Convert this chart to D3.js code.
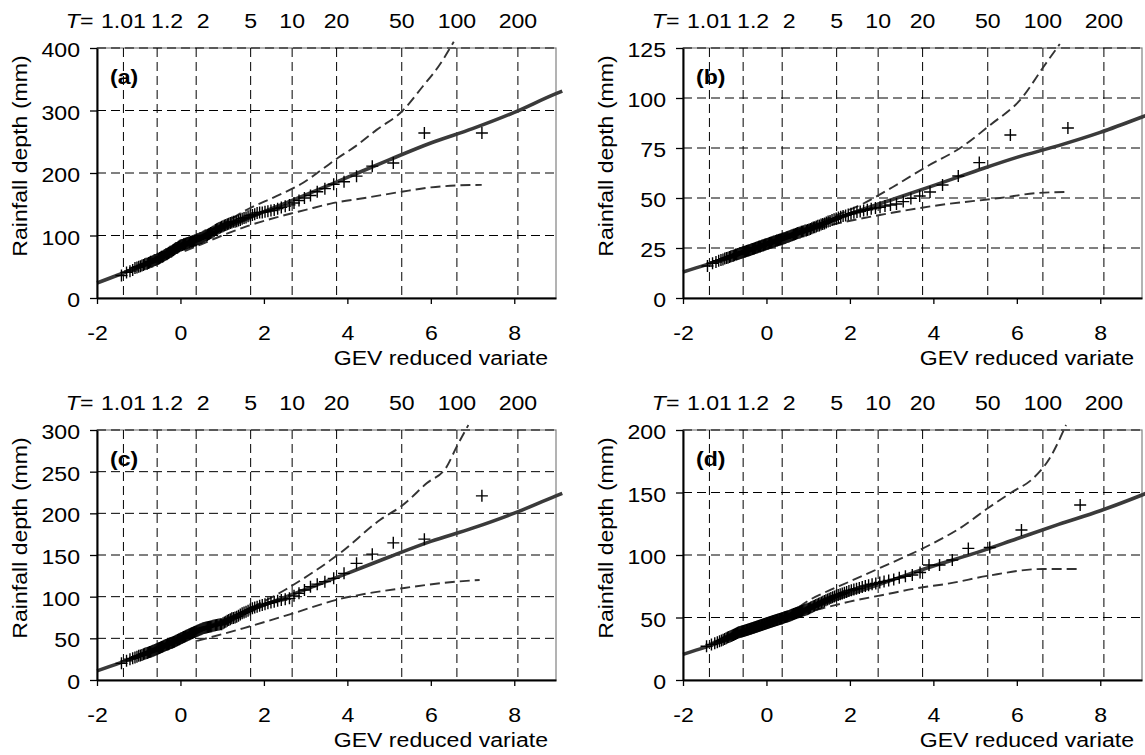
<!DOCTYPE html>
<html>
<head>
<meta charset="utf-8">
<script src="https://cdn.jsdelivr.net/npm/d3@7"></script>
<style>
body { margin: 0; background: #fff; }
text { font-family: "Liberation Sans", Arial, sans-serif; font-size: 21px; fill: #000; }
</style>
</head>
<body>
<svg id="chart" width="1145" height="755"></svg>
<script>
// GEV shape used for the reduced-variate axis
const shapeK = -0.15
const returnPeriods = [1.01, 1.2, 2, 5, 10, 20, 50, 100, 200]
const returnLabels = ['1.01', '1.2', '2', '5', '10', '20', '50', '100', '200']
const xTicks = [-2, 0, 2, 4, 6, 8]

const yTicksA = [0, 100, 200, 300, 400]
const yTicksB = [0, 25, 50, 75, 100, 125]
const yTicksC = [0, 50, 100, 150, 200, 250, 300]
const yTicksD = [0, 50, 100, 150, 200]

// observed annual maxima (mm), ascending
const obsA = [36, 41, 43, 45, 48, 49, 50, 51, 52, 53,
  54, 55, 55, 56, 57, 58, 58, 59, 60, 61,
  61, 62, 63, 63, 64, 65, 66, 66, 67, 68,
  69, 70, 70, 71, 72, 73, 74, 74, 75, 76,
  77, 78, 79, 80, 80, 81, 82, 83, 84, 84,
  85, 85, 86, 86, 87, 87, 88, 88, 89, 89,
  90, 90, 91, 91, 92, 92, 93, 94, 94, 95,
  96, 96, 97, 98, 99, 100, 100, 101, 102, 103,
  104, 105, 106, 107, 109, 110, 111, 112, 113, 114,
  115, 116, 117, 118, 119, 120, 121, 122, 122, 123,
  124, 125, 127, 128, 129, 131, 132, 133, 134, 136,
  137, 137, 138, 139, 140, 141, 143, 145, 147, 149,
  152, 156, 160, 164, 170, 175, 182, 186,
  195, 211, 216, 264, 264]

const obsB = [16, 17.4, 18, 18.6, 19, 19.2, 19.7, 20, 20.1, 20.5,
  20.8, 21, 21.1, 21.4, 21.7, 21.8, 22, 22.1, 22.4, 22.5,
  22.6, 22.9, 23, 23.1, 23.3, 23.5, 23.6, 23.8, 23.9, 24,
  24.2, 24.4, 24.5, 24.6, 24.8, 25, 25.1, 25.2, 25.4, 25.6,
  25.7, 25.8, 26, 26.2, 26.3, 26.4, 26.6, 26.8, 26.9, 27,
  27.1, 27.3, 27.5, 27.6, 27.7, 27.9, 28.1, 28.2, 28.3, 28.5,
  28.7, 28.8, 29, 29.1, 29.2, 29.4, 29.6, 29.7, 29.9, 30,
  30.2, 30.5, 30.6, 30.8, 31, 31.3, 31.4, 31.6, 31.8, 32,
  32.2, 32.5, 32.6, 32.8, 33.1, 33.2, 33.4, 33.7, 33.8, 34,
  34.3, 34.5, 34.9, 35.2, 35.4, 35.8, 36.1, 36.3, 36.7, 37,
  37.3, 37.8, 38.2, 38.5, 39, 39.4, 39.7, 40.2, 40.6, 41,
  41.3, 41.8, 42.1, 42.6, 43, 43.3, 43.8, 44.1, 44.6, 45,
  45.4, 46, 46.5, 47, 48.2, 49.8, 51, 53,
  56.5, 61, 67.7, 81.5, 85]

const obsC = [20, 23, 25, 26, 27, 28, 29, 29.5, 30, 31,
  31.5, 32, 32.5, 33, 33.5, 34, 34.5, 35, 35.5, 36,
  36.5, 37, 37.5, 38, 38.5, 39, 39.5, 40, 40.5, 41,
  41.5, 42, 42.3, 42.7, 43, 43.5, 44, 44.3, 44.7, 45,
  45.5, 46, 46.5, 47, 47.5, 48, 48.5, 49, 49.5, 50,
  50.5, 51, 51.5, 52, 52.5, 53, 53.5, 54, 54.5, 55,
  55.5, 56, 56.5, 57, 57.5, 58, 58.5, 59, 59.5, 60,
  60.5, 61, 61.5, 62, 62.3, 62.7, 63, 63.3, 63.7, 64,
  64.3, 64.6, 65, 65.3, 65.6, 66, 66.3, 66.6, 66.8, 67,
  68, 69, 70, 71, 72, 73, 74, 74.5, 75, 76,
  77, 78.5, 80, 81, 82, 83, 84.5, 86, 87, 88,
  89, 90, 91, 92, 93, 94, 95, 96, 97, 98,
  101, 104, 108, 112, 115, 118, 122, 128,
  140, 151, 164.6, 169, 221]

const obsD = [27, 28.5, 29.5, 30.3, 31, 31.6, 32.2, 32.8, 33.4, 34,
  34.4, 34.8, 35.2, 35.6, 36, 36.4, 36.8, 37.2, 37.6, 38,
  38.2, 38.4, 38.6, 38.8, 39, 39.2, 39.4, 39.6, 39.8, 40,
  40.2, 40.4, 40.6, 40.8, 41, 41.2, 41.4, 41.6, 41.8, 42,
  42.2, 42.4, 42.6, 42.8, 43, 43.2, 43.4, 43.6, 43.8, 44,
  44.2, 44.4, 44.6, 44.8, 45, 45.2, 45.4, 45.6, 45.8, 46,
  46.2, 46.4, 46.6, 46.8, 47, 47.2, 47.4, 47.6, 47.8, 48,
  48.2, 48.4, 48.6, 48.8, 49, 49.2, 49.3, 49.6, 50, 50.2,
  50.5, 50.7, 50.9, 51, 51.3, 51.6, 51.9, 52.2, 52.5, 52.8,
  53.1, 53.4, 53.7, 54, 54.3, 54.6, 54.9, 55.2, 55.5, 55.8,
  56.1, 56.4, 56.7, 57, 57.5, 58, 58.5, 59, 59.5, 60,
  60.5, 61, 61.5, 62, 62.6, 63.2, 63.8, 64.4, 65, 65.6,
  66.2, 66.8, 67.4, 68, 68.6, 69.2, 69.8, 70.5, 71.2, 71.8,
  72.4, 73, 73.6, 74.5, 75.2, 75.9, 76.6, 77.3, 78, 78.8,
  79.6, 80.5, 81.8, 83, 84, 86,
  92, 92, 96, 105.3, 106, 120, 140]

// fitted growth curves [reduced variate, depth]
const fitA = [[-2, 24], [-1, 50], [0, 80], [1, 110], [2, 138], [3, 165], [4, 193], [5, 221], [6, 248], [7, 271], [8, 297], [9, 327], [9.15, 331]]
const fitB = [[-2, 13], [-1, 19.7], [0, 27.3], [1, 35], [2, 42.2], [3, 49.1], [4, 56.2], [5, 63.4], [6, 70.3], [7, 76.2], [8, 82.8], [9, 90.5], [9.15, 91.7]]
const fitC = [[-2, 11], [-1, 29], [0, 50], [1, 70.5], [2, 90], [3, 108.7], [4, 128], [5, 147.6], [6, 166.3], [7, 182.2], [8, 200.2], [9, 221], [9.15, 224]]
const fitD = [[-2, 20.5], [-1, 31.5], [0, 44], [1, 56.7], [2, 68.5], [3, 79.9], [4, 91.2], [5, 101.5], [6, 113], [7, 124.5], [8, 135.4], [9, 148], [9.15, 150]]

// confidence limits
const upperA = [[0.3, 92], [1, 118], [1.67, 144], [2.3, 163], [2.93, 184], [3.4, 206], [3.77, 224], [4.2, 243], [4.7, 269], [5.33, 300], [5.8, 338], [6.2, 372], [6.55, 410]]
const lowerA = [[0.1, 75], [0.5, 86], [1, 100], [1.6, 115], [2.3, 129], [3, 141], [3.6, 151], [4.5, 161], [5.3, 170], [6, 177], [6.6, 180], [7.22, 181]]
const upperB = [[0.3, 31], [1.5, 40], [2.3, 47], [3.03, 55.5], [3.84, 65.7], [4.68, 75.5], [5.33, 86], [6.14, 100.5], [6.62, 115], [7.03, 127]]
const lowerB = [[0.2, 27.5], [1.28, 35], [2.72, 41.5], [4.16, 46.5], [5.6, 50], [6.5, 52.5], [7.2, 53]]
const upperC = [[0.4, 58], [1.5, 82], [2.5, 108], [3.2, 130], [3.82, 152], [4.78, 192], [5.33, 210], [5.9, 236], [6.38, 256], [6.62, 280], [6.9, 306]]
const lowerC = [[0.4, 47], [1.5, 62], [2.7, 80], [3.8, 97], [4.5, 104], [5.3, 110], [6.6, 118], [7.17, 120]]
const upperD = [[0.5, 51], [1.03, 64], [1.35, 69.3], [1.99, 78.7], [2.79, 90.7], [3.91, 108], [4.63, 121.3], [5.33, 138], [5.87, 150], [6.38, 161], [6.78, 177], [7.18, 204]]
const lowerD = [[0.5, 48], [1.03, 54.7], [1.51, 58.7], [1.99, 62.7], [2.79, 68], [3.59, 73.3], [4.39, 77.3], [5.33, 83.5], [6.62, 88.8], [7.54, 88.8]]

const panels = [
    { name: '(a)', obs: obsA, fit: fitA, upper: upperA, lower: lowerA, yTicks: yTicksA, left: 97, top: 48 },
    { name: '(b)', obs: obsB, fit: fitB, upper: upperB, lower: lowerB, yTicks: yTicksB, left: 683, top: 48 },
    { name: '(c)', obs: obsC, fit: fitC, upper: upperC, lower: lowerC, yTicks: yTicksC, left: 97, top: 430 },
    { name: '(d)', obs: obsD, fit: fitD, upper: upperD, lower: lowerD, yTicks: yTicksD, left: 683, top: 430 }
]

const W = 459, H = 250, stretch = 1.1
const labelNudge = [0, 10, 7, 0, 0, 0, 0, 0, 0]

const gevVariate = F => (1 - Math.pow(-Math.log(F), shapeK)) / shapeK

const svg = d3.select('#chart')

function addText(sel, str, x, y, anchor) {
    return sel.append('text')
        .attr('transform', `translate(${x},${y}) scale(${stretch},1)`)
        .attr('text-anchor', anchor)
        .text(str)
}

panels.forEach(p => {
    const g = svg.append('g').attr('transform', `translate(${p.left},${p.top})`)
    const x = d3.scaleLinear().domain([-2, 9]).range([0, W])
    const yMax = d3.max(p.yTicks)
    const y = d3.scaleLinear().domain([0, yMax]).range([H, 0])
    const tPos = returnPeriods.map(T => x(gevVariate(1 - 1 / T)))

    // frame
    g.append('rect')
        .attr('width', W).attr('height', H)
        .attr('fill', 'none').attr('stroke', '#808080').attr('stroke-width', 1.2)

    // grid
    g.append('g').selectAll('line')
        .data(p.yTicks.filter(d => d > 0))
        .join('line')
        .attr('x1', 0).attr('x2', W)
        .attr('y1', d => y(d)).attr('y2', d => y(d))
        .attr('stroke', '#000').attr('stroke-width', 1).attr('stroke-dasharray', '9,5')

    g.append('g').selectAll('line')
        .data(tPos)
        .join('line')
        .attr('x1', d => d).attr('x2', d => d)
        .attr('y1', 0).attr('y2', H)
        .attr('stroke', '#000').attr('stroke-width', 1).attr('stroke-dasharray', '9,5')

    const line = d3.line()
        .x(d => x(d[0]))
        .y(d => y(d[1]))
        .curve(d3.curveMonotoneX)

    // confidence limits
    ;[p.upper, p.lower].forEach(band => {
        g.append('path')
            .attr('d', line(band))
            .attr('fill', 'none')
            .attr('stroke', '#333').attr('stroke-width', 1.9)
            .attr('stroke-dasharray', '10,5')
    })

    // fitted curve
    g.append('path')
        .attr('d', line(p.fit))
        .attr('fill', 'none')
        .attr('stroke', '#3a3a3a').attr('stroke-width', 3.6)

    // observations, Weibull plotting position
    const n = p.obs.length
    g.append('g').selectAll('path')
        .data(p.obs)
        .join('path')
        .attr('transform', (d, i) => `translate(${x(gevVariate((i + 1) / (n + 1)))},${y(d)})`)
        .attr('d', 'M-6,0H6M0,-6V6')
        .attr('stroke', '#000').attr('stroke-width', 1.4)

    // axes
    const yAxis = g.append('g')
        .call(d3.axisLeft(y).tickValues(p.yTicks).tickSize(7).tickSizeOuter(0))
    yAxis.select('.domain').attr('stroke-width', 2)
    yAxis.selectAll('.tick line').attr('stroke-width', 1.3)
    yAxis.selectAll('text')
        .attr('x', 0).attr('dy', null)
        .attr('transform', `translate(-17,8.5) scale(${stretch},1)`)

    const xAxis = g.append('g')
        .attr('transform', `translate(0,${H})`)
        .call(d3.axisBottom(x).tickValues(xTicks).tickSize(6).tickSizeOuter(0).tickFormat(d => String(d)))
    xAxis.select('.domain').attr('stroke-width', 2)
    xAxis.selectAll('.tick line').attr('stroke-width', 1.3)
    xAxis.selectAll('text')
        .attr('y', 0).attr('dy', null)
        .attr('transform', `translate(0,42) scale(${stretch},1)`)

    // return period labels
    tPos.forEach((px, i) => addText(g, returnLabels[i], px + labelNudge[i], -20, 'middle'))
    const tEq = g.append('text')
        .attr('transform', `translate(${tPos[0] - 30},-20) scale(${stretch},1)`)
        .attr('text-anchor', 'end')
    tEq.append('tspan').attr('font-style', 'italic').text('T')
    tEq.append('tspan').text('=')

    addText(g, 'GEV reduced variate', W - 8, H + 67, 'end')

    g.append('text')
        .attr('transform', `translate(-70,108) rotate(-90) scale(${stretch},1)`)
        .attr('text-anchor', 'middle')
        .text('Rainfall depth (mm)')

    addText(g, p.name, 13, 36, 'start').attr('font-weight', 'bold')
})
</script>
</body>
</html>
